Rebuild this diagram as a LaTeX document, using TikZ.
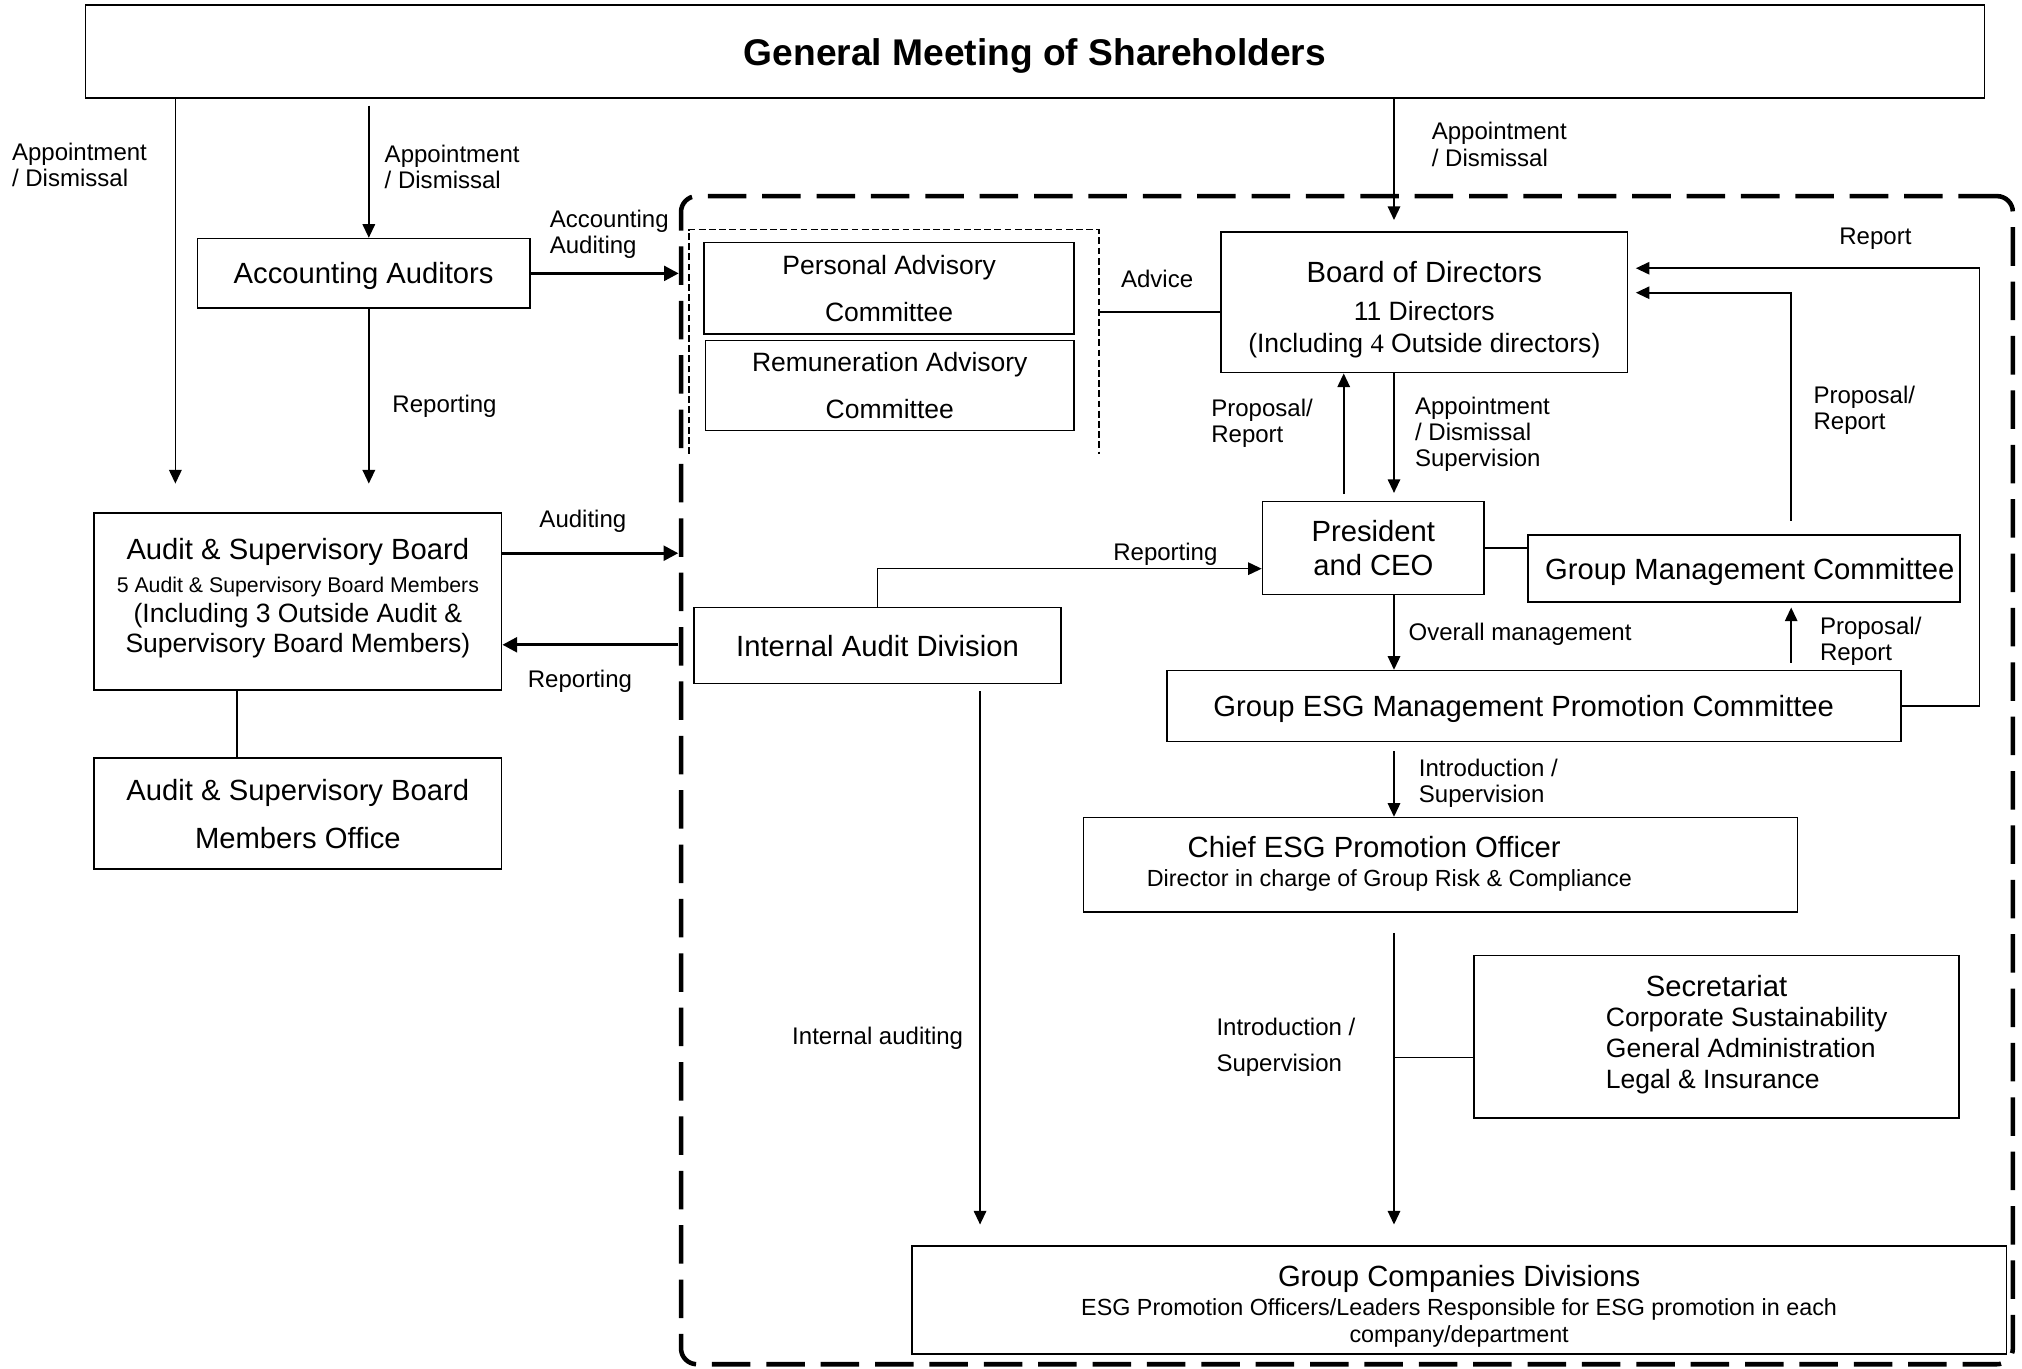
\documentclass[tikz,border=0pt]{standalone}
\usepackage{fontspec}
\setmainfont{Liberation Sans}
\newfontfamily\numfont{Liberation Serif}
\usetikzlibrary{arrows.meta}

\newcommand{\fmain}{\fontsize{12.9}{15}\selectfont}
\newcommand{\fsub}{\fontsize{11.7}{13}\selectfont}
\newcommand{\fdesc}{\fontsize{10.3}{12}\selectfont}
\newcommand{\fsmall}{\fontsize{9.4}{11}\selectfont}
\newcommand{\flbl}{\fontsize{10.6}{11.6}\selectfont}

\tikzset{
	box/.style={draw, line width=0.7pt, inner sep=0pt, align=center, text depth=0pt, font=\fmain},
	frame/.style={draw, line width=2pt, rounded corners=7pt, dash pattern=on 17pt off 7pt},
	lbl/.style={font=\flbl, align=left, anchor=west, inner sep=0pt, text depth=0pt},
	conn/.style={line width=0.7pt},
	arr/.style={conn, -{Triangle[length=6pt,width=5.5pt]}},
	thk/.style={line width=1.4pt, -{Triangle[length=6.5pt,width=6.5pt]}},
}

\begin{document}
\begin{tikzpicture}[x=0.02cm, y=-0.02cm]
		%%%%% START %%%%%
		\useasboundingbox (0,0) rectangle (1568,1061);
		
		\node[box, minimum width=29.46cm, minimum height=1.44cm, font=\bfseries\fontsize{16.4}{20}\selectfont] (gms) at (802.5,40) {General Meeting of Shareholders};
		
		\node[box, minimum width=5.16cm, minimum height=1.08cm] (aa) at (282,212) {Accounting Auditors};
		\node[box, minimum width=6.32cm, minimum height=2.74cm, font=\fsub, text depth=5.5pt] (asb) at (231,466.5) {{\fmain Audit \& Supervisory Board}\\[1.5pt]{\fsmall 5 Audit \& Supervisory Board Members}\\[0.5pt](Including 3 Outside Audit \&\\Supervisory Board Members)};
		\node[box, minimum width=6.32cm, minimum height=1.72cm] (ofc) at (231,631) {Audit \& Supervisory Board\\[6pt]Members Office};
		
		\node[frame, minimum width=20.66cm, minimum height=18.12cm] (grp) at (1044.5,605) {};
		\draw[line width=0.8pt, dash pattern=on 3pt off 1.5pt] (534,352) -- (534,178) -- (852,178) -- (852,352);
		
		\node[box, minimum width=5.74cm, minimum height=1.42cm, font=\fsub] (pac) at (689.5,223.5) {Personal Advisory\\[8pt]Committee};
		\node[box, minimum width=5.72cm, minimum height=1.40cm, font=\fsub] (rac) at (690,299) {Remuneration Advisory\\[8pt]Committee};
		\node[box, minimum width=6.30cm, minimum height=2.18cm, font=\fsub] (bod) at (1104.5,234.5) {\rule{0pt}{13pt}{\fmain Board of Directors}\\[4pt]11 Directors\\[1pt](Including {\numfont 4} Outside directors)};
		\node[box, minimum width=3.44cm, minimum height=1.44cm] (ceo) at (1065,425) {President\\and CEO};
		\node[box, minimum width=6.70cm, minimum height=1.04cm] (gmc) at (1352.5,441) {\hspace*{5pt}Group Management Committee};
		\node[box, minimum width=5.70cm, minimum height=1.18cm] (iad) at (680.5,500.5) {Internal Audit Division};
		\node[box, minimum width=11.38cm, minimum height=1.10cm] (esgc) at (1189.5,547.5) {\hspace*{-9pt}Group ESG Management Promotion Committee};
		
		\node[box, minimum width=11.08cm, minimum height=1.46cm] (cepo) at (1117,670.5) {};
		\node[lbl, font=\fdesc] (cepotxt) at (889,668) {\hspace*{18pt}{\fmain Chief ESG Promotion Officer}\\[1pt]Director in charge of Group Risk \& Compliance};
		
		\node[box, minimum width=7.52cm, minimum height=2.52cm] (sec) at (1331,804) {};
		\node[lbl, font=\fsub] (sectxt) at (1245,800) {\hspace*{17.6pt}{\fmain Secretariat}\\[0.6pt]Corporate Sustainability\\[0.6pt]General Administration\\[0.6pt]Legal \& Insurance};
		
		\node[box, minimum width=16.98cm, minimum height=1.68cm, font=\fdesc] (gcd) at (1131.5,1008) {\rule{0pt}{13pt}{\fmain Group Companies Divisions}\\[1pt]ESG Promotion Officers/Leaders Responsible for ESG promotion in each\\company/department};
		
		% ends and bends
		\coordinate (asbin) at (136,375);
		\coordinate (aaout) at (286,375);
		\coordinate (audr) at (526,429);
		\coordinate (repr) at (526,500);
		\coordinate (adv) at (852,242);
		\coordinate (spine) at (1081,0);
		\coordinate (propx) at (1389,0);
		\coordinate (repx) at (1535,0);
		\coordinate (iax) at (760,0);
		\coordinate (ceoin) at ([yshift=-0.32cm]ceo.west);
		\coordinate (bodr1) at ([yshift=0.53cm]bod.east);
		\coordinate (bodr2) at ([yshift=0.15cm]bod.east);
		\coordinate (secl) at ([yshift=-0.32cm]sec.west);
		
		\draw[arr] (gms.south -| asbin) -- (asbin);
		\draw[arr, shorten <=3pt] (gms.south -| aaout) -- (aa.north -| aaout);
		\draw[arr] (aa.south -| aaout) -- (aaout);
		\draw[thk] (aa.east) -- (aa.east -| grp.west);
		\draw[thk] (asb.east |- audr) -- (audr);
		\draw[thk] (repr) -- (asb.east |- repr);
		\draw[conn] ([xshift=-0.94cm]asb.south) -- ([xshift=-0.94cm]ofc.north);
		
		\draw[conn] (adv) -- (bod.west |- adv);
		\draw[arr, shorten >=5pt] (gms.south -| spine) -- (bod.north -| spine);
		\draw[arr, shorten >=3.5pt] (bod.south -| spine) -- (ceo.north -| spine);
		\draw[arr, shorten <=3pt] ([xshift=-0.46cm]ceo.north) -- ([xshift=-0.46cm]ceo.north |- bod.south);
		\draw[arr] (ceo.south -| spine) -- (esgc.north -| spine);
		\draw[arr, shorten <=4pt] (esgc.south -| spine) -- (cepo.north -| spine);
		\draw[arr, shorten <=9pt, shorten >=9pt] (cepo.south -| spine) -- (gcd.north -| spine);
		\draw[conn] (secl) -- (secl -| spine);
		
		\draw[arr] (iad.north) |- (ceoin);
		\draw[arr, shorten <=3pt, shorten >=9pt] (iad.south -| iax) -- (gcd.north -| iax);
		\draw[conn] (ceo.east) -- (ceo.east -| gmc.west);
		\draw[arr, shorten <=3pt, shorten >=2pt] (esgc.north -| propx) -- (gmc.south -| propx);
		\draw[arr, shorten <=6pt, shorten >=3.4pt] (gmc.north -| propx) |- (bodr2);
		\draw[arr, shorten >=3.4pt] (esgc.east) -- (esgc.east -| repx) |- (bodr1);
		
		% labels
		\node[lbl] (lapp1) at (9,128) {Appointment\\/ Dismissal};
		\node[lbl] (lapp2) at (298,129.5) {Appointment\\/ Dismissal};
		\node[lbl] (lrep1) at (304,313) {Reporting};
		\node[lbl] (lacc) at (426,179.5) {Accounting\\Auditing};
		\node[lbl] (laud) at (418,402) {Auditing};
		\node[lbl] (lrep2) at (409,526) {Reporting};
		\node[lbl] (ladv) at (869,216) {Advice};
		\node[lbl] (lapp3) at (1110,112) {Appointment\\/ Dismissal};
		\node[lbl] (lreport) at (1426,183) {Report};
		\node[lbl] (lprop1) at (939,326.5) {Proposal/\\Report};
		\node[lbl] (lapp4) at (1097,335) {Appointment\\/ Dismissal\\Supervision};
		\node[lbl] (lprop2) at (1406,316.5) {Proposal/\\Report};
		\node[lbl] (lrep3) at (863,428) {Reporting};
		\node[lbl] (lovr) at (1092,490) {Overall management};
		\node[lbl] (lprop3) at (1411,495.5) {Proposal/\\Report};
		\node[lbl] (lint1) at (1100,605.5) {Introduction /\\Supervision};
		\node[lbl] (lint2) at (943,810) {Introduction /\\[4.5pt]Supervision};
		\node[lbl] (lia) at (614,803) {Internal auditing};
		
		%%%%% END %%%%%
\end{tikzpicture}
\end{document}
